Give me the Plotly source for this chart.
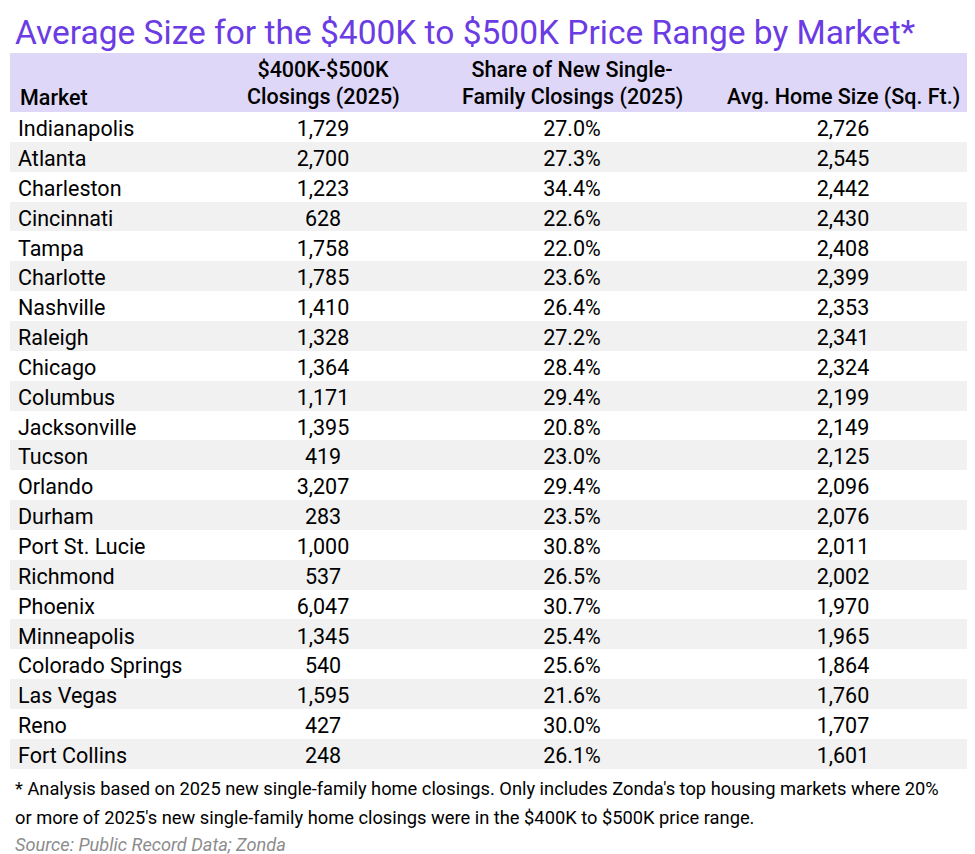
import plotly.graph_objects as go

markets = ["Indianapolis", "Atlanta", "Charleston", "Cincinnati", "Tampa", "Charlotte",
           "Nashville", "Raleigh", "Chicago", "Columbus", "Jacksonville", "Tucson",
           "Orlando", "Durham", "Port St. Lucie", "Richmond", "Phoenix", "Minneapolis",
           "Colorado Springs", "Las Vegas", "Reno", "Fort Collins"]
closings = [1729, 2700, 1223, 628, 1758, 1785, 1410, 1328, 1364, 1171, 1395, 419,
            3207, 283, 1000, 537, 6047, 1345, 540, 1595, 427, 248]
share = [0.270, 0.273, 0.344, 0.226, 0.220, 0.236, 0.264, 0.272, 0.284, 0.294, 0.208, 0.230,
         0.294, 0.235, 0.308, 0.265, 0.307, 0.254, 0.256, 0.216, 0.300, 0.261]
home_size = [2726, 2545, 2442, 2430, 2408, 2399, 2353, 2341, 2324, 2199, 2149, 2125,
             2096, 2076, 2011, 2002, 1970, 1965, 1864, 1760, 1707, 1601]
header_top = ["", "$400K-$500K", "Share of New Single-", ""]
header_bottom = ["Market", "Closings (2025)", "Family Closings (2025)", "Avg. Home Size (Sq. Ft.)"]

title = "Average Size for the $400K to $500K Price Range by Market*"
footnote_1 = ("* Analysis based on 2025 new single-family home closings. "
              "Only includes Zonda's top housing markets where 20%")
footnote_2 = "or more of 2025's new single-family home closings were in the $400K to $500K price range."
source = "Source: Public Record Data; Zonda"

W, H = 975, 854
FONT = "Roboto"
col_w = [198, 230, 268, 274]
row_fill = ["#FFFFFF" if i % 2 == 0 else "#F1F1F1" for i in range(len(markets))]
x0, x1 = 2, 972

fig = go.Figure(go.Table(
    domain=dict(x=[x0 / W, x1 / W], y=[0, 1 - 45 / H]),
    columnwidth=col_w,
    header=dict(values=header_top, fill_color="#DED7F7", line=dict(color="#DED7F7", width=0),
                align=["left", "center", "center", "center"],
                font=dict(family=FONT, size=21.5, color="#000000", weight=500), height=59),
    cells=dict(values=[markets, closings, share, home_size],
               format=[None, ",", ".1%", ","],
               fill_color=[row_fill] * 4, line=dict(color=[row_fill] * 4, width=0),
               align=["left", "center", "center", "center"],
               font=dict(family=FONT, size=21.5, color="#000000"), height=29.85),
))

# second header line, placed over the header band at each column's position
tot = sum(col_w)
annots = []
left = x0
for i, txt in enumerate(header_bottom):
    w = (x1 - x0) * col_w[i] / tot
    if i == 0:
        ax, anc = left + 8, "left"
    else:
        ax, anc = left + w / 2, "center"
    annots.append(dict(text=txt, x=ax / W, y=1 - 89 / H, xref="paper", yref="paper",
                       xanchor=anc, yanchor="middle", showarrow=False,
                       font=dict(family=FONT, size=21.5, color="#000000", weight=500)))
    left += w

annots += [
    dict(text=title, x=5 / W, y=1 - 24 / H, xref="paper", yref="paper", xanchor="left",
         yanchor="middle", showarrow=False,
         font=dict(family=FONT, size=33.5, color="#6B3CE3")),
    dict(text=footnote_1, x=5 / W, y=1 - 780 / H, xref="paper", yref="paper", xanchor="left",
         yanchor="middle", showarrow=False, font=dict(family=FONT, size=18.3, color="#000000")),
    dict(text=footnote_2, x=5 / W, y=1 - 809 / H, xref="paper", yref="paper", xanchor="left",
         yanchor="middle", showarrow=False, font=dict(family=FONT, size=18.3, color="#000000")),
    dict(text="<i>" + source + "</i>", x=5 / W, y=1 - 836 / H, xref="paper", yref="paper",
         xanchor="left", yanchor="middle", showarrow=False,
         font=dict(family=FONT, size=18.2, color="#8C8C8C")),
]

fig.update_layout(width=W, height=H, margin=dict(l=0, r=0, t=0, b=0),
                  paper_bgcolor="white", plot_bgcolor="white", annotations=annots)

fig.write_html("out.html")
